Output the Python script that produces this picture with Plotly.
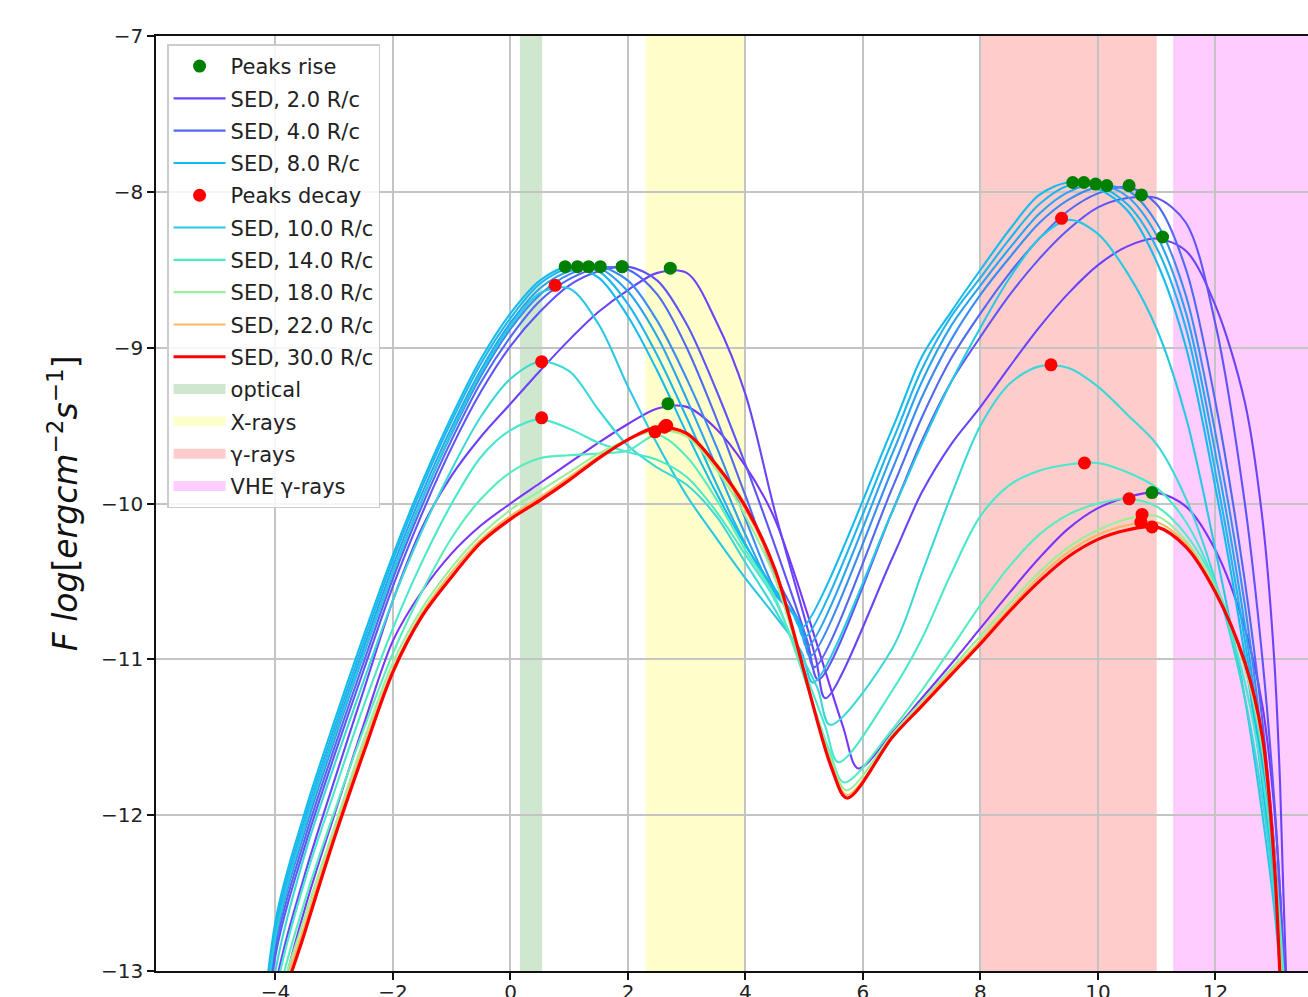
import plotly.graph_objects as go

# ---------------- data ----------------
x_left = [-4.5, -4.0, -3.5, -3.0, -2.5, -2.0, -1.5, -1.0, -0.5, 0.0, 0.5, 1.0, 1.5, 2.0, 2.5, 3.0, 3.5, 4.0, 4.5]
x_right = [6.5, 7.0, 7.5, 8.0, 8.5, 9.0, 9.5, 10.0, 10.5, 11.0, 11.5, 12.0, 12.5, 12.8, 13.0, 13.1, 13.2, 13.4]
x_ticks = [-4, -2, 0, 2, 4, 6, 8, 10, 12]
y_ticks = [-13, -12, -11, -10, -9, -8, -7]

sed_times = [1, 2, 3, 4, 5, 6, 7, 8, 10, 12, 14, 16, 18, 22, 30]
sed_colors = ["#7a35fb", "#6a44fa", "#5e55f8", "#5068f2", "#3c8cf0", "#2aa4ee", "#1eb4ec", "#14bcee",
              "#28c8e4", "#3cd8d8", "#48e8cc", "#55ecc0", "#98f098", "#f8b860", "#ff0000"]
sed_labelled = [False, True, False, True, False, False, False, True,
                True, False, True, False, True, True, True]

# point on the steep descent just before the valley, and the valley bottom
knee_x = [5.65, 5.20, 5.05, 5.00, 4.95, 4.90, 4.85, 4.80, 4.95, 5.22, 5.35, 5.42, 5.45, 5.45, 5.45]
knee_y = [-11.42, -11.00, -10.88, -10.83, -10.78, -10.75, -10.72, -10.70, -10.95, -11.18, -11.42, -11.58, -11.64, -11.66, -11.68]
valley_x = [5.92, 5.36, 5.24, 5.17, 5.10, 5.05, 5.00, 4.95, 5.15, 5.44, 5.58, 5.68, 5.72, 5.73, 5.73]
valley_y = [-11.70, -11.25, -11.13, -11.05, -10.98, -10.92, -10.86, -10.80, -11.15, -11.42, -11.66, -11.79, -11.84, -11.87, -11.89]

sed_t1_left = [-15.0, -13.35, -12.6, -12.0, -11.42, -10.88, -10.56, -10.32, -10.14, -10.0, -9.87, -9.74, -9.61, -9.49, -9.39, -9.38, -9.52, -9.76, -10.1]
sed_t2_left = [-14.95, -13.1, -12.38, -11.78, -11.2, -10.62, -10.15, -9.82, -9.57, -9.36, -9.15, -8.95, -8.77, -8.63, -8.52, -8.52, -8.83, -9.3, -10.05]
sed_t3_left = [-14.85, -12.9, -12.2, -11.62, -11.07, -10.53, -10.06, -9.64, -9.28, -8.99, -8.77, -8.6, -8.51, -8.48, -8.57, -8.85, -9.27, -9.75, -10.27]
sed_t4_left = [-14.8, -12.85, -12.15, -11.57, -11.02, -10.48, -10.01, -9.59, -9.22, -8.93, -8.7, -8.56, -8.49, -8.5, -8.66, -9.0, -9.45, -9.95, -10.45]
sed_t5_left = [-14.75, -12.8, -12.1, -11.52, -10.97, -10.44, -9.97, -9.55, -9.18, -8.88, -8.66, -8.53, -8.48, -8.57, -8.83, -9.2, -9.63, -10.1, -10.55]
sed_t6_left = [-14.7, -12.76, -12.06, -11.48, -10.93, -10.4, -9.93, -9.51, -9.14, -8.84, -8.62, -8.51, -8.49, -8.64, -8.93, -9.33, -9.76, -10.2, -10.58]
sed_t7_left = [-14.65, -12.72, -12.02, -11.44, -10.89, -10.36, -9.89, -9.47, -9.1, -8.81, -8.59, -8.49, -8.51, -8.72, -9.05, -9.45, -9.87, -10.26, -10.57]
sed_t8_left = [-14.6, -12.68, -11.98, -11.4, -10.85, -10.33, -9.86, -9.44, -9.07, -8.78, -8.57, -8.48, -8.55, -8.8, -9.15, -9.55, -9.93, -10.27, -10.55]
sed_t10_left = [-14.7, -12.78, -12.07, -11.5, -10.96, -10.44, -9.97, -9.54, -9.16, -8.86, -8.65, -8.62, -8.85, -9.25, -9.62, -9.95, -10.22, -10.48, -10.72]
sed_t12_left = [-14.85, -13.0, -12.25, -11.68, -11.14, -10.62, -10.17, -9.78, -9.44, -9.2, -9.09, -9.15, -9.4, -9.63, -9.77, -9.88, -10.08, -10.38, -10.68]
sed_t14_left = [-14.95, -13.15, -12.42, -11.85, -11.3, -10.8, -10.37, -10.0, -9.7, -9.53, -9.46, -9.52, -9.61, -9.67, -9.72, -9.83, -10.05, -10.33, -10.62]
sed_t16_left = [-15.0, -13.25, -12.55, -11.98, -11.45, -10.96, -10.56, -10.22, -9.97, -9.8, -9.71, -9.69, -9.68, -9.66, -9.56, -9.7, -9.97, -10.3, -10.6]
sed_t18_left = [-15.1, -13.3, -12.65, -12.08, -11.52, -11.02, -10.67, -10.41, -10.2, -10.04, -9.92, -9.8, -9.68, -9.59, -9.53, -9.57, -9.78, -10.08, -10.48]
sed_t22_left = [-15.15, -13.33, -12.7, -12.12, -11.56, -11.06, -10.7, -10.44, -10.23, -10.08, -9.96, -9.83, -9.7, -9.59, -9.52, -9.56, -9.76, -10.04, -10.44]
sed_t30_left = [-15.2, -13.38, -12.75, -12.15, -11.6, -11.08, -10.72, -10.47, -10.25, -10.1, -9.98, -9.85, -9.71, -9.59, -9.51, -9.55, -9.75, -10.02, -10.42]

sed_t1_right = [-11.47, -11.25, -11.03, -10.8, -10.57, -10.35, -10.16, -10.03, -9.96, -9.93, -10.02, -10.3, -10.8, -11.3, -11.95, -12.5, -13.2, -14.5]
sed_t2_right = [-10.35, -9.93, -9.62, -9.38, -9.12, -8.87, -8.65, -8.47, -8.35, -8.3, -8.38, -8.73, -9.35, -10.1, -11.0, -11.8, -13.0, -14.5]
sed_t3_right = [-10.05, -9.6, -9.22, -8.93, -8.66, -8.43, -8.24, -8.1, -8.04, -8.04, -8.2, -8.85, -10.0, -11.0, -11.9, -12.5, -13.2, -14.5]
sed_t4_right = [-9.9, -9.45, -9.07, -8.78, -8.52, -8.3, -8.12, -8.01, -7.97, -8.08, -8.5, -9.35, -10.5, -11.4, -12.2, -12.7, -13.3, -14.5]
sed_t5_right = [-9.78, -9.32, -8.95, -8.66, -8.42, -8.2, -8.05, -7.97, -7.99, -8.2, -8.67, -9.55, -10.65, -11.55, -12.3, -12.75, -13.35, -14.5]
sed_t6_right = [-9.68, -9.22, -8.86, -8.6, -8.36, -8.14, -8.0, -7.95, -8.03, -8.28, -8.78, -9.68, -10.78, -11.65, -12.38, -12.8, -13.4, -14.5]
sed_t7_right = [-9.6, -9.14, -8.8, -8.55, -8.3, -8.08, -7.96, -7.96, -8.08, -8.36, -8.88, -9.8, -10.88, -11.72, -12.43, -12.85, -13.4, -14.5]
sed_t8_right = [-9.52, -9.06, -8.77, -8.5, -8.24, -8.02, -7.94, -7.98, -8.12, -8.45, -9.0, -9.9, -10.98, -11.8, -12.5, -12.9, -13.45, -14.5]
sed_t10_right = [-10.05, -9.62, -9.22, -8.87, -8.55, -8.3, -8.18, -8.27, -8.52, -8.88, -9.45, -10.3, -11.25, -12.0, -12.6, -13.0, -13.5, -14.5]
sed_t12_right = [-10.93, -10.45, -9.95, -9.5, -9.23, -9.12, -9.13, -9.25, -9.43, -9.62, -9.97, -10.5, -11.25, -11.9, -12.5, -12.9, -13.4, -14.5]
sed_t14_right = [-11.2, -10.87, -10.45, -10.08, -9.88, -9.79, -9.75, -9.74, -9.8, -9.9, -10.12, -10.52, -11.15, -11.75, -12.35, -12.8, -13.3, -14.5]
sed_t16_right = [-11.45, -11.2, -10.93, -10.65, -10.4, -10.2, -10.07, -10.0, -9.97, -10.02, -10.2, -10.52, -11.05, -11.6, -12.25, -12.7, -13.25, -14.5]
sed_t18_right = [-11.48, -11.27, -11.06, -10.85, -10.64, -10.44, -10.28, -10.17, -10.1, -10.08, -10.24, -10.55, -11.05, -11.55, -12.25, -12.9, -13.5, -15.0]
sed_t22_right = [-11.5, -11.29, -11.08, -10.88, -10.67, -10.47, -10.31, -10.2, -10.14, -10.12, -10.26, -10.56, -11.03, -11.52, -12.28, -12.95, -13.7, -15.2]
sed_t30_right = [-11.5, -11.3, -11.1, -10.9, -10.69, -10.5, -10.34, -10.23, -10.17, -10.15, -10.28, -10.57, -11.02, -11.5, -12.3, -13.05, -14.0, -15.5]

sed_left = [sed_t1_left, sed_t2_left, sed_t3_left, sed_t4_left, sed_t5_left, sed_t6_left, sed_t7_left, sed_t8_left,
            sed_t10_left, sed_t12_left, sed_t14_left, sed_t16_left, sed_t18_left, sed_t22_left, sed_t30_left]
sed_right = [sed_t1_right, sed_t2_right, sed_t3_right, sed_t4_right, sed_t5_right, sed_t6_right, sed_t7_right, sed_t8_right,
             sed_t10_right, sed_t12_right, sed_t14_right, sed_t16_right, sed_t18_right, sed_t22_right, sed_t30_right]

peaks_rise_x = [2.68, 2.72, 1.90, 1.90, 1.53, 1.33, 1.14, 0.93,
                10.92, 11.10, 10.74, 10.53, 10.15, 9.96, 9.76, 9.57]
peaks_rise_y = [-9.36, -8.49, -8.48, -8.48, -8.48, -8.48, -8.48, -8.48,
                -9.93, -8.29, -8.02, -7.96, -7.96, -7.95, -7.94, -7.94]
peaks_decay_x = [0.76, 0.53, 0.53, 2.46, 2.62, 2.66, 2.64,
                 9.38, 9.20, 9.77, 10.53, 10.75, 10.73, 10.92]
peaks_decay_y = [-8.60, -9.09, -9.45, -9.54, -9.51, -9.50, -9.50,
                 -8.17, -9.11, -9.74, -9.97, -10.07, -10.12, -10.15]

band_names = ["optical", "X-rays", "γ-rays", "VHE γ-rays"]
band_x0 = [0.16, 2.30, 8.0, 11.28]
band_x1 = [0.54, 4.0, 11.0, 14.0]
band_colors = ["#cfe6cf", "#ffffcc", "#ffcccc", "#ffccff"]

# ---------------- figure ----------------
FONT = "DejaVu Sans"
fig = go.Figure()

rank = {2: 2, 4: 3, 8: 4, 10: 6, 14: 7, 18: 8, 22: 9, 30: 10}
for i, t in enumerate(sed_times):
    xs = x_left + [knee_x[i], valley_x[i]] + x_right
    ys = sed_left[i] + [knee_y[i], valley_y[i]] + sed_right[i]
    nm = f"SED, {t:.1f} R/c"
    fig.add_trace(go.Scatter(
        x=xs, y=ys, mode="lines",
        line=dict(color=sed_colors[i], width=3.2 if t == 30 else 2.1, shape="spline", smoothing=0.9),
        name=nm, legendgroup=nm,
        showlegend=sed_labelled[i],
        legendrank=rank.get(t, 100),
        hoverinfo="skip",
    ))

fig.add_trace(go.Scatter(x=peaks_rise_x, y=peaks_rise_y, mode="markers",
                         marker=dict(color="#008000", size=13), name="Peaks rise",
                         legendgroup="Peaks rise", legendrank=1))
fig.add_trace(go.Scatter(x=peaks_decay_x, y=peaks_decay_y, mode="markers",
                         marker=dict(color="#ff0000", size=13), name="Peaks decay",
                         legendgroup="Peaks decay", legendrank=5))

for j, nm in enumerate(band_names):
    fig.add_shape(type="rect", xref="x", yref="paper", x0=band_x0[j], x1=band_x1[j], y0=0, y1=1,
                  fillcolor=band_colors[j], line=dict(width=0), layer="below")
    # legend entry for the band
    fig.add_trace(go.Scatter(x=[None], y=[None], mode="lines",
                             line=dict(color=band_colors[j], width=14),
                             name=nm, legendgroup=nm, legendrank=11 + j, hoverinfo="skip"))

fig.add_annotation(
    text="<i>F log</i>[<i>ergcm</i><sup>−2</sup><i>s</i><sup>−1</sup>]",
    xref="paper", yref="paper", x=-0.08, y=0.5, textangle=-90,
    showarrow=False, xanchor="center", yanchor="middle",
    font=dict(family=FONT, size=33, color="#111"),
)

axis_common = dict(
    showgrid=True, gridcolor="#c4c4c4", gridwidth=1.5, zeroline=False,
    showline=True, linecolor="#111", linewidth=1.5,
    ticks="outside", ticklen=7, tickwidth=1.5, tickcolor="#111",
    tickfont=dict(family=FONT, size=20, color="#222"),
    automargin=False,
)
fig.update_xaxes(range=[-6.034, 13.575], tickmode="array", tickvals=x_ticks, mirror=True,
                 ticklabelstandoff=-5, **axis_common)
fig.update_yaxes(range=[-13, -7], tickmode="array", tickvals=y_ticks, mirror=False, **axis_common)

fig.update_layout(
    width=1308, height=997,
    margin=dict(l=156, r=0, t=36, b=26),
    plot_bgcolor="white", paper_bgcolor="white",
    font=dict(family=FONT, size=20, color="#222"),
    legend=dict(x=0.0096, y=0.991, xanchor="left", yanchor="top",
                bgcolor="rgba(255,255,255,0.85)", bordercolor="#cccccc", borderwidth=1.5,
                font=dict(family=FONT, size=21, color="#222"), traceorder="grouped",
                tracegroupgap=2, itemwidth=52),
    showlegend=True,
)

fig.write_html("out.html")
